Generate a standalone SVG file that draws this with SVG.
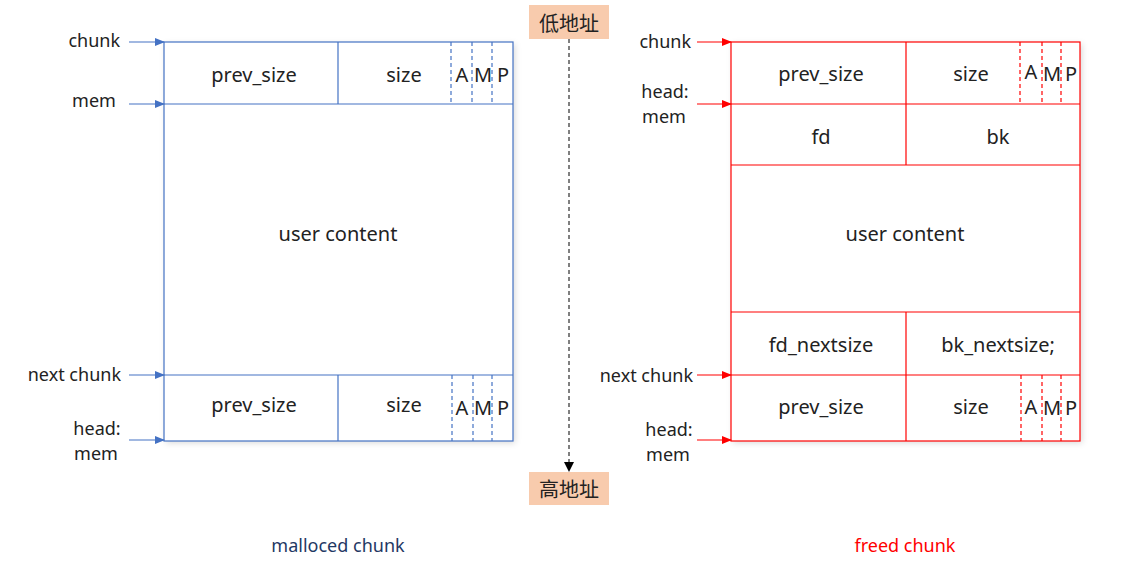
<svg xmlns="http://www.w3.org/2000/svg" width="1131" height="569" viewBox="0 0 1131 569">
<defs>
<style>
text{font-family:"Noto Sans","Liberation Sans",sans-serif;fill:#222;}
.cell{font-size:20px;text-anchor:middle;dominant-baseline:central;}
.lbl{font-size:18px;dominant-baseline:central;}
.r{text-anchor:end;}
.m{text-anchor:middle;}
.bl{stroke:#4472C4;stroke-width:1.2;fill:none;}
.rd{stroke:#FF0000;stroke-width:1.2;fill:none;}
.dash{stroke-dasharray:4 3;}
.cap{font-size:18px;text-anchor:middle;dominant-baseline:central;}
.cjk{font-family:"Noto Sans CJK SC",sans-serif;font-size:20px;text-anchor:middle;dominant-baseline:central;}
</style>
<marker id="ab" markerWidth="10" markerHeight="8" refX="9" refY="4" orient="auto" markerUnits="userSpaceOnUse"><path d="M0,0 L10,4 L0,8 z" fill="#4472C4"/></marker>
<marker id="ar" markerWidth="10" markerHeight="8" refX="9" refY="4" orient="auto" markerUnits="userSpaceOnUse"><path d="M0,0 L10,4 L0,8 z" fill="#FF0000"/></marker>
<marker id="ak" markerWidth="10" markerHeight="10" refX="9" refY="5" orient="auto" markerUnits="userSpaceOnUse"><path d="M0,0 L10,5 L0,10 z" fill="#000"/></marker>
<filter id="sh" x="-5%" y="-5%" width="110%" height="110%"><feDropShadow dx="2" dy="2" stdDeviation="3" flood-color="#000" flood-opacity="0.15"/></filter>
</defs>
<rect width="1131" height="569" fill="#fff"/>

<g id="malloced">
<rect x="164" y="42" width="349" height="399" fill="#fff" filter="url(#sh)"/>
<rect class="bl" x="164" y="42" width="349" height="399"/>
<line class="bl" x1="164" y1="104" x2="513" y2="104"/>
<line class="bl" x1="164" y1="375" x2="513" y2="375"/>
<line class="bl" x1="338" y1="42" x2="338" y2="104"/>
<line class="bl" x1="338" y1="375" x2="338" y2="441"/>
<line class="bl dash" x1="451" y1="42" x2="451" y2="104"/>
<line class="bl dash" x1="472" y1="42" x2="472" y2="104"/>
<line class="bl dash" x1="492" y1="42" x2="492" y2="104"/>
<line class="bl dash" x1="452" y1="375" x2="452" y2="441"/>
<line class="bl dash" x1="473" y1="375" x2="473" y2="441"/>
<line class="bl dash" x1="492" y1="375" x2="492" y2="441"/>
<text class="cell" x="254" y="74">prev_size</text>
<text class="cell" x="404" y="74">size</text>
<text class="cell" x="462" y="74">A</text>
<text class="cell" x="483" y="74">M</text>
<text class="cell" x="503" y="74">P</text>
<text class="cell" x="338" y="233">user content</text>
<text class="cell" x="254" y="404">prev_size</text>
<text class="cell" x="404" y="404">size</text>
<text class="cell" x="462" y="407">A</text>
<text class="cell" x="483" y="407">M</text>
<text class="cell" x="503" y="407">P</text>
</g>

<g id="freed">
<rect x="731" y="42" width="349" height="399" fill="#fff" filter="url(#sh)"/>
<rect class="rd" x="731" y="42" width="349" height="399"/>
<line class="rd" x1="731" y1="104" x2="1080" y2="104"/>
<line class="rd" x1="731" y1="165" x2="1080" y2="165"/>
<line class="rd" x1="731" y1="312" x2="1080" y2="312"/>
<line class="rd" x1="731" y1="375" x2="1080" y2="375"/>
<line class="rd" x1="906" y1="42" x2="906" y2="165"/>
<line class="rd" x1="906" y1="312" x2="906" y2="441"/>
<line class="rd dash" x1="1020" y1="42" x2="1020" y2="104"/>
<line class="rd dash" x1="1042" y1="42" x2="1042" y2="104"/>
<line class="rd dash" x1="1061" y1="42" x2="1061" y2="104"/>
<line class="rd dash" x1="1021" y1="375" x2="1021" y2="441"/>
<line class="rd dash" x1="1042" y1="375" x2="1042" y2="441"/>
<line class="rd dash" x1="1061" y1="375" x2="1061" y2="441"/>
<text class="cell" x="821" y="73">prev_size</text>
<text class="cell" x="971" y="73">size</text>
<text class="cell" x="1031" y="71">A</text>
<text class="cell" x="1052" y="73">M</text>
<text class="cell" x="1071" y="73">P</text>
<text class="cell" x="821" y="136">fd</text>
<text class="cell" x="998" y="136">bk</text>
<text class="cell" x="905" y="233">user content</text>
<text class="cell" x="821" y="344">fd_nextsize</text>
<text class="cell" x="998" y="344">bk_nextsize;</text>
<text class="cell" x="821" y="406">prev_size</text>
<text class="cell" x="971" y="406">size</text>
<text class="cell" x="1031" y="406">A</text>
<text class="cell" x="1052" y="407">M</text>
<text class="cell" x="1071" y="407">P</text>
</g>

<g id="low-addr">
<rect x="529" y="5" width="80" height="34" fill="#F8CBAD"/>
<text class="cjk" x="569" y="22">低地址</text>
</g>
<g id="high-addr">
<rect x="529" y="472" width="80" height="33" fill="#F8CBAD"/>
<text class="cjk" x="569" y="488">高地址</text>
</g>

<g id="labels">
<text class="lbl r" x="120" y="40">chunk</text>
<text class="lbl m" x="94" y="100">mem</text>
<text class="lbl r" x="121" y="374">next chunk</text>
<text class="lbl m" x="97" y="428">head:</text>
<text class="lbl m" x="96" y="453">mem</text>
<text class="lbl r" x="691" y="41">chunk</text>
<text class="lbl m" x="665" y="91">head:</text>
<text class="lbl m" x="664" y="116">mem</text>
<text class="lbl r" x="693" y="375">next chunk</text>
<text class="lbl m" x="669" y="429">head:</text>
<text class="lbl m" x="668" y="454">mem</text>
<text class="cap" x="338" y="545" style="fill:#1F3864">malloced chunk</text>
<text class="cap" x="905" y="545" style="fill:#FF0000">freed chunk</text>
</g>

<g id="connectors">
<line class="bl" x1="129" y1="42" x2="164" y2="42" marker-end="url(#ab)"/>
<line class="bl" x1="129" y1="104" x2="164" y2="104" marker-end="url(#ab)"/>
<line class="bl" x1="129" y1="375" x2="164" y2="375" marker-end="url(#ab)"/>
<line class="bl" x1="129" y1="440" x2="164" y2="440" marker-end="url(#ab)"/>
<line class="rd" x1="697" y1="42" x2="731" y2="42" marker-end="url(#ar)"/>
<line class="rd" x1="697" y1="104" x2="731" y2="104" marker-end="url(#ar)"/>
<line class="rd" x1="697" y1="375" x2="731" y2="375" marker-end="url(#ar)"/>
<line class="rd" x1="697" y1="440" x2="731" y2="440" marker-end="url(#ar)"/>
<line x1="569" y1="39" x2="569" y2="471" stroke="#000" stroke-width="1" stroke-dasharray="4 3" marker-end="url(#ak)"/>
</g>
</svg>
